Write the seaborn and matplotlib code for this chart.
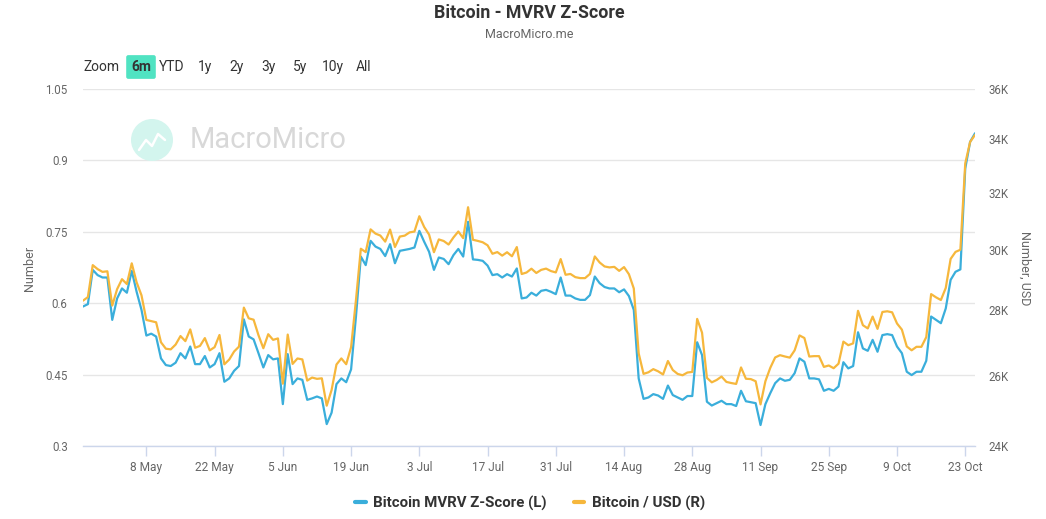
import matplotlib
matplotlib.use("Agg")
import matplotlib.pyplot as plt
import matplotlib.ticker as mticker
from matplotlib.patches import Ellipse
from matplotlib.lines import Line2D
import numpy as np
import pandas as pd
import seaborn as sns

# ---------------- data ----------------
START = "2023-04-25"
END = "2023-10-25"

mvrv_apr = [0.593, 0.598, 0.670, 0.659, 0.654, 0.654]
mvrv_may = [0.565, 0.610, 0.631, 0.622, 0.668, 0.624, 0.586, 0.532, 0.536, 0.530,
            0.484, 0.470, 0.468, 0.475, 0.495, 0.484, 0.509, 0.472, 0.472, 0.489,
            0.465, 0.472, 0.495, 0.435, 0.442, 0.458, 0.468, 0.566, 0.530, 0.524, 0.495]
mvrv_jun = [0.465, 0.491, 0.482, 0.484, 0.388, 0.493, 0.430, 0.442, 0.439, 0.397,
            0.400, 0.404, 0.400, 0.346, 0.370, 0.430, 0.442, 0.434, 0.461, 0.572,
            0.698, 0.680, 0.731, 0.719, 0.714, 0.699, 0.724, 0.684, 0.710, 0.712]
mvrv_jul = [0.714, 0.717, 0.752, 0.729, 0.708, 0.670, 0.696, 0.693, 0.682, 0.701,
            0.714, 0.698, 0.771, 0.692, 0.691, 0.689, 0.679, 0.659, 0.661, 0.654,
            0.661, 0.656, 0.673, 0.610, 0.612, 0.622, 0.616, 0.626, 0.628, 0.624, 0.619]
mvrv_aug = [0.654, 0.616, 0.616, 0.610, 0.607, 0.607, 0.617, 0.656, 0.642, 0.634,
            0.631, 0.631, 0.623, 0.629, 0.615, 0.586, 0.442, 0.399, 0.402, 0.409,
            0.406, 0.399, 0.427, 0.407, 0.402, 0.397, 0.405, 0.405, 0.518, 0.491, 0.393]
mvrv_sep = [0.385, 0.390, 0.395, 0.388, 0.388, 0.384, 0.416, 0.394, 0.392, 0.390,
            0.344, 0.388, 0.411, 0.432, 0.442, 0.437, 0.439, 0.453, 0.484, 0.477,
            0.442, 0.442, 0.440, 0.416, 0.420, 0.416, 0.425, 0.476, 0.463, 0.468]
mvrv_oct = [0.539, 0.505, 0.500, 0.523, 0.498, 0.533, 0.535, 0.533, 0.509, 0.495,
            0.456, 0.449, 0.456, 0.456, 0.479, 0.572, 0.565, 0.558, 0.589, 0.649,
            0.666, 0.671, 0.883, 0.939, 0.957]

btc_apr = [28307, 28422, 29473, 29340, 29248, 29268]
btc_may = [28150, 28680, 29006, 28847, 29534, 28904, 28480, 27694, 27658, 27621,
           27000, 26804, 26784, 26930, 27192, 27036, 27398, 26832, 26890, 27129,
           26753, 26851, 27225, 26334, 26476, 26719, 26868, 28085, 27745, 27702, 27219]
btc_jun = [26819, 27249, 27075, 27119, 25760, 27238, 26345, 26508, 26480, 25851,
           25940, 25902, 25918, 25124, 25576, 26327, 26510, 26336, 26851, 28327,
           30027, 29912, 30695, 30548, 30480, 30271, 30688, 30086, 30445, 30477]
btc_jul = [30590, 30620, 31156, 30777, 30514, 29909, 30346, 30292, 30171, 30414,
           30620, 30391, 31476, 30334, 30295, 30249, 30145, 29856, 29913, 29793,
           29908, 29771, 30084, 29177, 29228, 29354, 29211, 29315, 29357, 29275, 29230]
btc_aug = [29676, 29152, 29179, 29074, 29042, 29041, 29180, 29765, 29561, 29429,
           29397, 29415, 29282, 29408, 29170, 28701, 26664, 26049, 26096, 26189,
           26124, 26031, 26432, 26163, 26047, 26008, 26089, 26106, 27727, 27297, 25931]
btc_sep = [25800, 25869, 25969, 25812, 25779, 25753, 26240, 25905, 25895, 25832,
           25162, 25833, 26228, 26539, 26608, 26568, 26534, 26754, 27211, 27132,
           26567, 26579, 26579, 26256, 26298, 26217, 26352, 27021, 26911, 26967]
btc_oct = [27983, 27530, 27429, 27799, 27415, 27946, 27968, 27935, 27583, 27391,
           26873, 26756, 26862, 26861, 27159, 28519, 28415, 28328, 28719, 29682,
           29919, 29993, 33086, 33901, 34170]

left_ticks = [0.3, 0.45, 0.6, 0.75, 0.9, 1.05]
left_labels = ["0.3", "0.45", "0.6", "0.75", "0.9", "1.05"]
right_ticks = [24000, 26000, 28000, 30000, 32000, 34000, 36000]
right_labels = ["24K", "26K", "28K", "30K", "32K", "34K", "36K"]
x_tick_dates = ["2023-05-08", "2023-05-22", "2023-06-05", "2023-06-19", "2023-07-03",
                "2023-07-17", "2023-07-31", "2023-08-14", "2023-08-28", "2023-09-11",
                "2023-09-25", "2023-10-09", "2023-10-23"]
x_tick_labels = ["8 May", "22 May", "5 Jun", "19 Jun", "3 Jul", "17 Jul", "31 Jul",
                 "14 Aug", "28 Aug", "11 Sep", "25 Sep", "9 Oct", "23 Oct"]
range_buttons = ["6m", "YTD", "1y", "2y", "3y", "5y", "10y", "All"]

TITLE = "Bitcoin - MVRV Z-Score"
SUBTITLE = "MacroMicro.me"
SERIES_L = "Bitcoin MVRV Z-Score (L)"
SERIES_R = "Bitcoin / USD (R)"

# ---------------- style ----------------
BLUE = "#3aaedb"
ORANGE = "#f6b73c"
GRID = "#e6e6e6"
AXIS = "#ccd6eb"
LABEL = "#666666"
DARK = "#333333"
MINT = "#50e3c2"

sns.set_theme(style="white")
plt.rcParams['font.family'] = ['Roboto', 'DejaVu Sans']

mvrv = mvrv_apr + mvrv_may + mvrv_jun + mvrv_jul + mvrv_aug + mvrv_sep + mvrv_oct
btc = btc_apr + btc_may + btc_jun + btc_jul + btc_aug + btc_sep + btc_oct
dates = pd.date_range(START, END, freq="D")
df = pd.DataFrame({"date": dates, "mvrv": mvrv, "btc": btc})

W, H = 1046, 519
fig = plt.figure(figsize=(W / 100, H / 100), dpi=100)
fig.patch.set_facecolor("white")
L, R, T, B = 83, 975, 89, 446
ax = fig.add_axes([L / W, 1 - B / H, (R - L) / W, (B - T) / H])
ax2 = ax.twinx()

sns.lineplot(data=df, x="date", y="mvrv", ax=ax, color=BLUE, lw=1.6, estimator=None)
sns.lineplot(data=df, x="date", y="btc", ax=ax2, color=ORANGE, lw=1.6, estimator=None)

ax.set_xlim(dates[0], dates[-1])
ax.set_ylim(0.3, 1.05)
ax.set_yticks(left_ticks)
ax.set_yticklabels(left_labels)
ax.yaxis.grid(True, color=GRID, lw=1)
ax.xaxis.grid(False)
ax.set_xticks(pd.to_datetime(x_tick_dates))
ax.set_xticklabels(x_tick_labels)
ax.set_xlabel("")
ax.set_ylabel("")

ax2.set_yscale("log")
ax2.set_ylim(24000, 36000)
ax2.yaxis.set_major_locator(mticker.FixedLocator(right_ticks))
ax2.yaxis.set_minor_locator(mticker.NullLocator())
ax2.yaxis.set_major_formatter(mticker.FixedFormatter(right_labels))
ax2.set_ylabel("")
ax2.grid(False)

for s in ["top", "left", "right"]:
    ax.spines[s].set_visible(False)
ax.spines["bottom"].set_color(AXIS)
ax.spines["bottom"].set_linewidth(1)
for s in ax2.spines.values():
    s.set_visible(False)

ax.tick_params(axis="y", length=0, pad=11, labelsize=8.3, labelcolor=LABEL)
ax.tick_params(axis="x", length=7, width=1, color=AXIS, direction="out", pad=4,
               labelsize=8.6, labelcolor=LABEL, bottom=True)
ax2.tick_params(axis="y", length=0, pad=10, labelsize=8.3, labelcolor=LABEL)

# axis titles
fig.text(30 / W, 1 - 268 / H, "Number", rotation=90, ha="center", va="center",
         fontsize=9, color=LABEL)
fig.text(1025 / W, 1 - 268 / H, "Number, USD", rotation=270, ha="center", va="center",
         fontsize=9, color=LABEL)

# title / subtitle
fig.text(529 / W, 1 - 13 / H, TITLE, ha="center", va="center", fontsize=12.8,
         fontweight="bold", color=DARK)
fig.text(529 / W, 1 - 35 / H, SUBTITLE, ha="center", va="center", fontsize=9,
         color=LABEL)

# range selector
fig.text(101 / W, 1 - 67 / H, "Zoom", ha="center", va="center", fontsize=10, color=DARK)
btn_x = [141, 172, 205, 237, 268, 300, 333, 364]
for lab, bx in zip(range_buttons, btn_x):
    if lab == "6m":
        fig.text(bx / W, 1 - 67 / H, lab, ha="center", va="center", fontsize=10,
                 fontweight="bold", color=DARK,
                 bbox=dict(boxstyle="round,pad=0.35,rounding_size=0.15", fc=MINT, ec="none"))
    else:
        fig.text(bx / W, 1 - 67 / H, lab, ha="center", va="center", fontsize=10,
                 color=DARK)

# watermark
fig.add_artist(Ellipse((152 / W, 1 - 140 / H), 42 / W, 42 / H, transform=fig.transFigure,
                       fc="#d3f5ee", ec="none", zorder=0.5))
icon_x = np.array([139, 146, 152, 158, 165]) / W
icon_y = 1 - np.array([150, 140, 146, 134, 140]) / H
fig.add_artist(Line2D(icon_x, icon_y, transform=fig.transFigure, color="white", lw=1.8,
                      zorder=0.6))
fig.text(268 / W, 1 - 140 / H, "MacroMicro", ha="center", va="center", fontsize=21,
         color="#d8d8d8", zorder=0.5)

# legend
handles = [Line2D([0], [0], color=BLUE, lw=3), Line2D([0], [0], color=ORANGE, lw=3)]
leg = fig.legend(handles, [SERIES_L, SERIES_R], loc="center",
                 bbox_to_anchor=(530 / W, 1 - 503 / H), ncol=2, frameon=False,
                 handlelength=0.7, handletextpad=0.5, columnspacing=1.8,
                 prop={"weight": "bold", "size": 10.8})
for t in leg.get_texts():
    t.set_color(DARK)

fig.savefig("out.png", dpi=100)
